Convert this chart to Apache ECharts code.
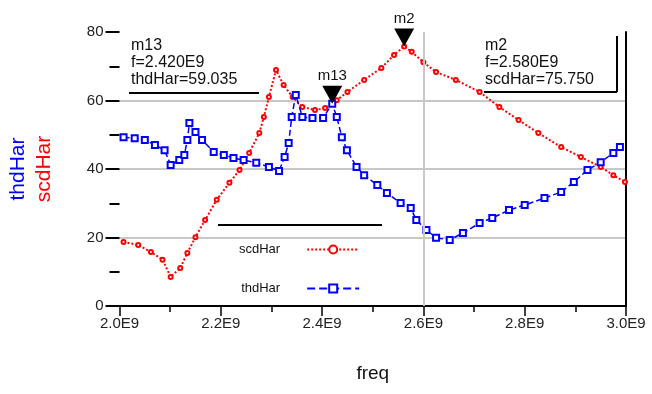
<!DOCTYPE html>
<html>
<head>
<meta charset="utf-8">
<script src="https://cdn.jsdelivr.net/npm/echarts@6/dist/echarts.min.js"></script>
<style>
  html, body { margin: 0; padding: 0; background: #fff; }
  #chart { width: 652px; height: 394px; }
</style>
</head>
<body>
<div id="chart"></div>
<script>
// freq in units of 1E9
const scdFreq = [2.008, 2.037, 2.062, 2.085, 2.101, 2.12, 2.134, 2.15, 2.169, 2.192, 2.217, 2.237, 2.256, 2.276, 2.285, 2.295, 2.309, 2.324, 2.342, 2.361, 2.386, 2.406, 2.429, 2.45, 2.483, 2.517, 2.542, 2.562, 2.577, 2.6, 2.625, 2.664, 2.711, 2.75, 2.788, 2.827, 2.872, 2.911, 2.95, 2.975, 2.998]
const scdHar = [18.7, 17.8, 15.8, 13.5, 8.5, 11.1, 15.5, 20.1, 25.1, 31, 36, 39.7, 44.7, 50.5, 55.2, 61, 68.9, 64.5, 61, 58.1, 57.2, 57.8, 60.1, 62.5, 66, 69.5, 73.3, 75.75, 74.2, 71.2, 68.3, 66, 62.5, 58.1, 54.3, 50.5, 46.4, 43.5, 40.6, 38.2, 36.2]

const thdFreq = [2.008, 2.03, 2.05, 2.07, 2.089, 2.101, 2.118, 2.128, 2.134, 2.138, 2.15, 2.163, 2.186, 2.206, 2.225, 2.245, 2.27, 2.295, 2.315, 2.326, 2.334, 2.34, 2.348, 2.361, 2.381, 2.402, 2.42, 2.429, 2.439, 2.449, 2.468, 2.483, 2.509, 2.528, 2.555, 2.575, 2.586, 2.606, 2.625, 2.652, 2.678, 2.711, 2.736, 2.769, 2.8, 2.839, 2.872, 2.897, 2.924, 2.95, 2.975, 2.988]
const thdHar = [49.3, 49, 48.5, 47, 45.5, 41.2, 42.6, 44.1, 48.5, 53.4, 50.8, 48.5, 45, 44.1, 43.2, 42.6, 41.8, 40.6, 39.4, 43.5, 47.6, 55.2, 61.6, 55.2, 54.9, 54.9, 59.035, 55.2, 49.3, 45.5, 40.6, 38.2, 35.3, 33, 30.1, 28.6, 25.1, 22.2, 19.9, 19.3, 21.3, 24.2, 25.7, 28, 29.5, 31.5, 33.3, 36.2, 39.7, 42, 44.7, 46.4]

// markers: [freq, value]
const m13 = [2.42, 59.035]
const m2 = [2.562, 75.75]

const xTicks = { min: 2.0, max: 3.0, step: 0.2 }
const yTicks = { min: 0, max: 80, step: 20 }

const font = 'Liberation Sans, Arial, sans-serif'

const chart = echarts.init(document.getElementById('chart'))

const markerStyle = {
  symbol: 'triangle',
  symbolRotate: 180,
  symbolSize: [20, 18],
  symbolOffset: [0, -9],
  itemStyle: { color: '#000' },
  label: { show: true, position: 'top', color: '#111', fontSize: 15, fontFamily: font, distance: 2 }
}

const option = {
  animation: false,
  backgroundColor: '#fff',
  textStyle: { fontFamily: font },
  grid: { left: 111, right: 26, top: 32, bottom: 88 },
  xAxis: {
    type: 'value',
    min: xTicks.min,
    max: xTicks.max,
    interval: xTicks.step,
    axisLine: { show: true, lineStyle: { color: '#000', width: 2 } },
    axisTick: { show: true, length: 10, lineStyle: { color: '#000', width: 1.5 } },
    minorTick: { show: true, splitNumber: 2, length: 6, lineStyle: { color: '#000', width: 1.5 } },
    axisLabel: { formatter: v => v.toFixed(1) + 'E9', fontSize: 15, color: '#222', margin: 10 },
    splitLine: { show: false },
    name: 'freq',
    nameLocation: 'middle',
    nameGap: 58,
    nameTextStyle: { fontSize: 19, color: '#111' }
  },
  yAxis: [
    {
      type: 'value',
      min: yTicks.min,
      max: yTicks.max,
      interval: yTicks.step,
      axisLine: { show: false },
      axisTick: { show: true, length: 14, lineStyle: { color: '#000', width: 2 } },
      minorTick: { show: true, splitNumber: 2, length: 10, lineStyle: { color: '#000', width: 2 } },
      axisLabel: { fontSize: 15, color: '#222', margin: 16 },
      splitLine: {
        show: true,
        lineStyle: { color: ['transparent', '#c8c8c8', '#c8c8c8', '#c8c8c8', 'transparent'], width: 2 }
      },
      name: '{t|thdHar}\n{s|scdHar}',
      nameLocation: 'middle',
      nameRotate: 90,
      nameGap: 62,
      nameTextStyle: {
        rich: {
          t: { color: '#0000ff', fontSize: 21, lineHeight: 26, fontFamily: font },
          s: { color: '#ff0000', fontSize: 21, lineHeight: 26, fontFamily: font }
        }
      }
    },
    {
      type: 'value',
      position: 'right',
      min: yTicks.min,
      max: yTicks.max,
      interval: yTicks.step,
      axisLine: { show: true, lineStyle: { color: '#000', width: 2 } },
      axisTick: { show: false },
      axisLabel: { show: false },
      splitLine: { show: false }
    }
  ],
  legend: {
    orient: 'vertical',
    left: 234,
    top: 238,
    align: 'right',
    itemWidth: 52,
    itemHeight: 10,
    itemGap: 26,
    textStyle: { fontSize: 13, color: '#111', padding: [0, 22, 0, 0] },
    data: ['scdHar', 'thdHar']
  },
  series: [
    {
      name: 'scdHar',
      type: 'line',
      data: scdFreq.map((f, i) => [f, scdHar[i]]),
      color: '#ff0000',
      lineStyle: { type: 'dotted', width: 2 },
      symbol: 'emptyCircle',
      symbolSize: 4,
      markPoint: Object.assign({ data: [{ coord: m2, value: 'm2', label: { formatter: 'm2' } }] }, markerStyle),
      markLine: {
        silent: true,
        symbol: 'none',
        label: { show: false },
        lineStyle: { color: '#c8c8c8', type: 'solid', width: 2 },
        data: [{ xAxis: 2.6 }]
      },
      z: 3
    },
    {
      name: 'thdHar',
      type: 'line',
      data: thdFreq.map((f, i) => [f, thdHar[i]]),
      color: '#0000ff',
      lineStyle: { type: 'dashed', width: 1.5 },
      symbol: 'emptyRect',
      symbolSize: 6,
      markPoint: Object.assign({ data: [{ coord: m13, value: 'm13', label: { formatter: 'm13' } }] }, markerStyle),
      z: 4
    }
  ],
  graphic: [
    {
      type: 'text', left: 131, top: 37,
      style: { text: 'm13\nf=2.420E9\nthdHar=59.035', font: '16px ' + font, lineHeight: 17, fill: '#111' }
    },
    { type: 'line', shape: { x1: 129, y1: 93, x2: 259, y2: 93 }, style: { stroke: '#000', lineWidth: 2 } },
    {
      type: 'text', left: 485, top: 37,
      style: { text: 'm2\nf=2.580E9\nscdHar=75.750', font: '16px ' + font, lineHeight: 17, fill: '#111' }
    },
    { type: 'line', shape: { x1: 484, y1: 92, x2: 617, y2: 92 }, style: { stroke: '#000', lineWidth: 2 } },
    { type: 'line', shape: { x1: 617, y1: 36, x2: 617, y2: 92 }, style: { stroke: '#000', lineWidth: 2 } },
    { type: 'line', shape: { x1: 218, y1: 225, x2: 382, y2: 225 }, style: { stroke: '#000', lineWidth: 2 } }
  ]
}

chart.setOption(option)
</script>
</body>
</html>
